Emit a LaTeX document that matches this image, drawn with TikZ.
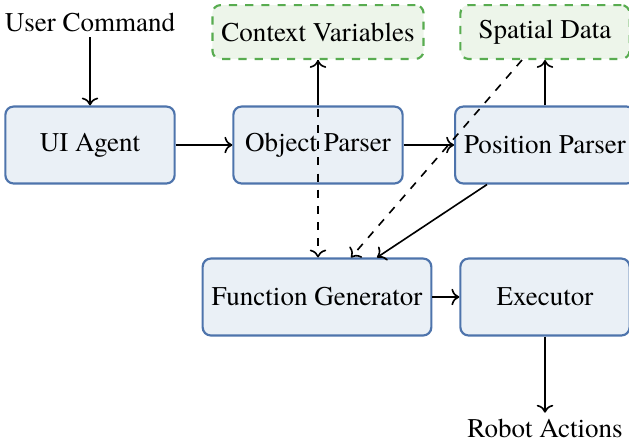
\documentclass[tikz,border=0pt]{standalone}
\usepackage{fontspec}
\setmainfont{texgyretermes}[Extension=.otf,UprightFont=*-regular,BoldFont=*-bold]
\usetikzlibrary{arrows.meta,positioning,calc}
\definecolor{boxedge}{RGB}{78,116,172}
\definecolor{boxfill}{RGB}{234,240,246}
\definecolor{dataedge}{RGB}{88,172,80}
\definecolor{datafill}{RGB}{237,245,234}

\begin{document}
\begin{tikzpicture}[x=0.37pt,y=-0.37pt,
    agent/.style={draw=boxedge,fill=boxfill,thick,rounded corners=3pt,minimum width=2.2cm,minimum height=1cm},
    store/.style={draw=dataedge,fill=datafill,thick,dashed,rounded corners=3pt,minimum width=2.2cm,minimum height=0.7cm},
    plain/.style={inner sep=2pt},
    link/.style={->,semithick},
    feed/.style={->,semithick,dashed}]
    \useasboundingbox (0,0) rectangle (629,442);
    % top row of data
    \node[store] (ctx) at (318,32) {Context Variables};
    \node[store] (spat) at (545,32) {Spatial Data};
    % agents
    \node[plain] (cmd) at (90,22) {User Command};
    \node[agent] (ui) at (90,145) {UI Agent};
    \node[agent] (obj) at (318,145) {Object Parser};
    \node[agent] (pos) at (545,145) {Position Parser};
    \node[agent] (func) at (317,297) {Function Generator};
    \node[agent] (exec) at (545,297) {Executor};
    \node[plain] (act) at (545,428) {Robot Actions};
    % connectors
    \draw[link] (cmd) -- (ui);
    \draw[link] (ui) -- (obj);
    \draw[link] (obj) -- (pos);
    \draw[link] (obj.north) -- (ctx.south);
    \draw[link] (pos.north) -- (spat.south);
    \draw[feed] (ctx.south) -- (ctx.south |- func.north);
    \draw[feed] ($(spat.south)+(-23,0)$) -- ($(func.north)+(34,0)$);
    \draw[link] ($(pos.south)+(-58,0)$) -- ($(func.north)+(60,0)$);
    \draw[link] (func) -- (exec);
    \draw[link] (exec) -- (act);
\end{tikzpicture}
\end{document}
